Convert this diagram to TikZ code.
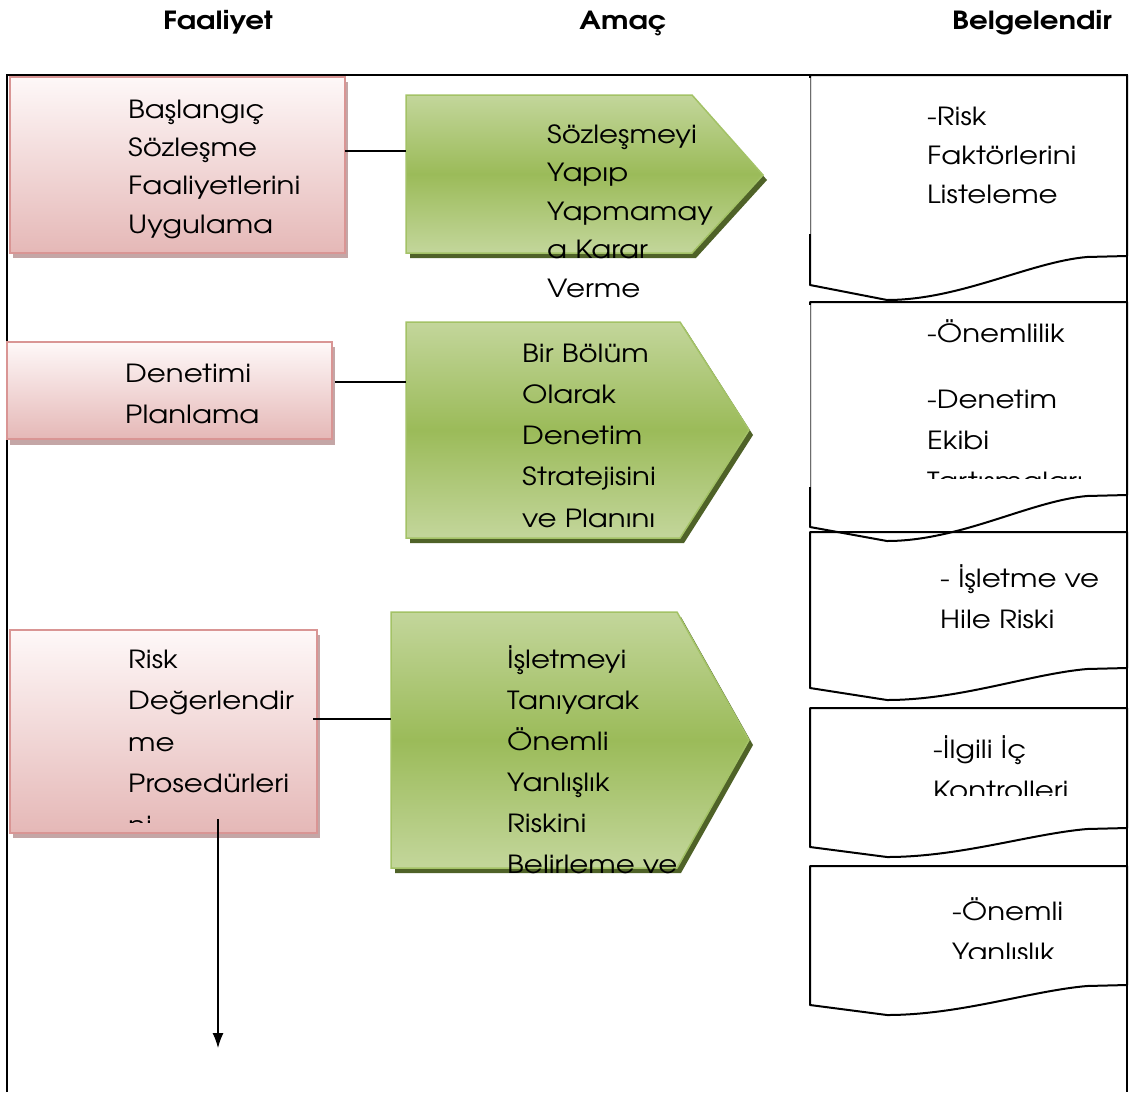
\documentclass[tikz,border=0pt]{standalone}
\usepackage{fontspec}
\setmainfont{texgyreadventor-regular.otf}[BoldFont=texgyreadventor-bold.otf, FakeStretch=1.17]
\usetikzlibrary{arrows.meta}
\definecolor{pinkB}{HTML}{D99594}
\definecolor{pinkT}{HTML}{FEF8F8}
\definecolor{pinkF}{HTML}{E5B8B7}
\definecolor{pinkS}{HTML}{C4A6A6}
\definecolor{grnB}{HTML}{A3C266}
\definecolor{grnT}{HTML}{C3D69B}
\definecolor{grnM}{HTML}{9BBB59}
\definecolor{grnS}{HTML}{4F6228}
\newcommand{\bodyfs}{25}
\newcommand{\mlines}[2]{\parbox[t]{330pt}{\fontsize{\bodyfs}{#1}\selectfont\raggedright #2}}
\newcommand{\docpath}[4]{(810,#1) -- (1127,#1) -- (1127,#2) -- (1087,#2+1) .. controls (1030,#2+6) and (960,#3) .. (887,#3) -- (810,#4) -- cycle}
\begin{document}
\begin{tikzpicture}[x=1pt,y=-1pt,
  frame/.style={line width=1.4pt, black},
  conn/.style={line width=1.2pt, black},
  pinkbox/.style={draw=pinkB, line width=1.8pt, top color=pinkT, bottom color=pinkF, inner sep=0pt, outer sep=0pt},
  pinkshadow/.style={fill=pinkS, draw=none},
  greenshape/.style={draw=grnB, line width=1.5pt, top color=grnT, bottom color=grnT, middle color=grnM},
  greenshadow/.style={fill=grnS, draw=none},
  docfill/.style={fill=white, draw=none},
  docline/.style={draw=black, line width=2pt, line join=round},
  thinedge/.style={draw=gray!85!black, line width=0.8pt},
  txt/.style={anchor=base west, inner sep=0pt, text=black},
  head/.style={anchor=base, inner sep=0pt, font=\bfseries\fontsize{25}{30}\selectfont}]
\useasboundingbox (0,0) rectangle (1131,1092);
\fill[white] (0,0) rectangle (1131,1092);

% headers
\node[head] (h1) at (218,29) {Faaliyet};
\node[head] (h2) at (623,29) {Amaç};
\node[head] (h3) at (1032,29) {Belgelendir};

% frame
\draw[frame] (7,1092) -- (7,75) -- (1127,75) -- (1127,1092);

% documents
\path[docfill] \docpath{75}{256}{300}{285};
\path[docfill] \docpath{302}{495}{541}{527};
\path[docfill] \docpath{532}{668}{700}{688};
\path[docfill] \docpath{708}{828}{857}{847};
\path[docfill] \docpath{866}{985}{1015}{1005};
\path[docline] \docpath{75}{256}{300}{285};
\path[docline] \docpath{302}{495}{541}{527};
\path[docline] \docpath{532}{668}{700}{688};
\path[docline] \docpath{708}{828}{857}{847};
\path[docline] \docpath{866}{985}{1015}{1005};
\draw[white, line width=2.6pt] (810,78) -- (810,234);
\draw[thinedge] (810,78) -- (810,234);
\draw[white, line width=2.6pt] (810,305) -- (810,487);
\draw[thinedge] (810,305) -- (810,487);
\draw[frame] (1127,75) -- (1127,1092);

% pink boxes
\fill[pinkshadow] (13,82) rectangle (348,258);
\node[pinkbox, minimum width=335pt, minimum height=176pt] (p1) at (177.5,165) {};
\fill[pinkshadow] (10,347) rectangle (335,445);
\node[pinkbox, minimum width=325pt, minimum height=97pt] (p2) at (169.5,390.5) {};
\fill[pinkshadow] (13,635) rectangle (320,838);
\node[pinkbox, minimum width=307pt, minimum height=203pt] (p3) at (163.5,731.5) {};

% green arrows
\fill[greenshadow] (410,100) -- (696,100) -- (767,180) -- (696,258) -- (410,258) -- cycle;
\path[greenshape] (406,95) -- (692,95) -- (763,175) -- (692,253) -- (406,253) -- cycle;
\fill[greenshadow] (410,327) -- (684,327) -- (753,435) -- (684,543) -- (410,543) -- cycle;
\path[greenshape] (406,322) -- (680,322) -- (749,430) -- (680,538) -- (406,538) -- cycle;
\fill[greenshadow] (395,617) -- (681,617) -- (753,745) -- (681,873) -- (395,873) -- cycle;
\path[greenshape] (391,612) -- (677,612) -- (749,740) -- (677,868) -- (391,868) -- cycle;

% connector end points
\coordinate (g1w) at (406,151);
\coordinate (g2w) at (406,382);
\coordinate (g3w) at (391,719);
\coordinate (p3in) at (313,719);
\coordinate (arrStart) at (218,819);
\coordinate (arrEnd) at (218,1048);

\draw[conn] (p1.east |- g1w) -- (g1w);
\draw[conn] (p2.east |- g2w) ++(3,0) -- (g2w);
\draw[conn] (p3in) -- (g3w);

% pink texts
\begin{scope}
\clip (10,77) rectangle (345,243);
\node[txt] (tp1) at (128,118) {\mlines{38.4pt}{Başlangıç\\Sözleşme\\Faaliyetlerini\\Uygulama}};
\end{scope}
\node[txt] (tp2) at (125,382) {\mlines{41pt}{Denetimi\\Planlama}};
\begin{scope}
\clip (10,630) rectangle (317,822);
\node[txt] (tp3) at (128,668) {\mlines{41.5pt}{Risk\\Değerlendir\\me\\Prosedürleri\\ni}};
\end{scope}

% green texts
\node[txt] (tg1) at (547,143) {\mlines{38.5pt}{Sözleşmeyi\\Yapıp\\Yapmamay\\a Karar\\Verme}};
\node[txt] (tg2) at (522,362) {\mlines{41.3pt}{Bir Bölüm\\Olarak\\Denetim\\Stratejisini\\ve Planını}};
\begin{scope}
\clip (380,600) rectangle (800,875);
\node[txt] (tg3) at (507,668) {\mlines{41pt}{İşletmeyi\\Tanıyarak\\Önemli\\Yanlışlık\\Riskini\\Belirleme ve}};
\end{scope}

% document texts
\node[txt] (td1) at (927,125) {\mlines{39pt}{-Risk\\Faktörlerini\\Listeleme}};
\begin{scope}
\clip (812,304) rectangle (1125,478);
\node[txt] (td2) at (927,342) {\mlines{41pt}{-Önemlilik\\[25pt]-Denetim\\Ekibi\\Tartışmaları}};
\end{scope}
\node[txt] (td3) at (940,587) {\mlines{41pt}{- İşletme ve\\Hile Riski}};
\begin{scope}
\clip (812,710) rectangle (1125,795);
\node[txt] (td4) at (933,758) {\mlines{41pt}{-İlgili İç\\Kontrolleri}};
\end{scope}
\begin{scope}
\clip (812,868) rectangle (1125,958);
\node[txt] (td5) at (952,920) {\mlines{41pt}{-Önemli\\Yanlışlık}};
\end{scope}

% arrow
\draw[conn, -{Latex[length=15pt,width=11pt]}] (arrStart) -- (arrEnd);
\end{tikzpicture}
\end{document}
